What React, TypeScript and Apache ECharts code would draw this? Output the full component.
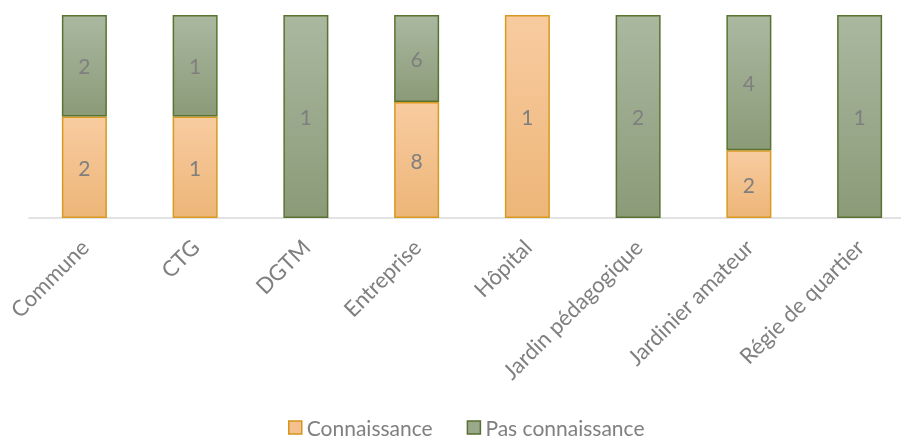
import React, { useEffect, useRef } from "react";
import * as echarts from "echarts";

const categories = ["Commune", "CTG", "DGTM", "Entreprise", "Hôpital", "Jardin pédagogique", "Jardinier amateur", "Régie de quartier"];
const connaissance = [2, 1, 0, 8, 1, 0, 2, 0];
const pasConnaissance = [2, 1, 1, 6, 0, 2, 4, 1];
const seriesNames = ["Connaissance", "Pas connaissance"];

export default function App() {
  const ref = useRef<HTMLDivElement>(null);
  useEffect(() => {
    if (!ref.current) return;
    const chart = echarts.init(ref.current, null, { renderer: "svg" });
    const totals = categories.map((_, i) => connaissance[i] + pasConnaissance[i]);
    const font = "Lato, 'Open Sans', sans-serif";
    const orange = new echarts.graphic.LinearGradient(0, 0, 0, 1, [
      { offset: 0, color: "#F8CBA0" },
      { offset: 1, color: "#EDB678" },
    ]);
    const green = new echarts.graphic.LinearGradient(0, 0, 0, 1, [
      { offset: 0, color: "#AAB8A0" },
      { offset: 1, color: "#8B9B78" },
    ]);
    const mk = (name: string, raw: number[], color: any, border: string) => ({
      name,
      type: "bar",
      stack: "total",
      barWidth: 45,
      data: raw.map((v, i) => (v ? { value: (v / totals[i]) * 100, raw: v } : "-")),
      itemStyle: { color, borderColor: border, borderWidth: 1.5 },
      label: {
        show: true,
        position: "inside",
        color: "#7F7F7F",
        fontSize: 21,
        fontFamily: font,
        formatter: (p: any) => (p.data && p.data.raw ? String(p.data.raw) : ""),
      },
      emphasis: { disabled: true },
    });
    chart.setOption({
      animation: false,
      grid: { left: 29, width: 886, top: 15, bottom: 221, containLabel: false, outerBoundsMode: "none" },
      legend: {
        bottom: -4,
        left: 283,
        itemWidth: 13,
        itemHeight: 13,
        itemGap: 34,
        icon: "rect",
        textStyle: { color: "#7F7F7F", fontSize: 21, fontFamily: font },
        data: [
          { name: seriesNames[0], itemStyle: { color: "#F4C08F", borderColor: "#D4951A", borderWidth: 1.5 } },
          { name: seriesNames[1], itemStyle: { color: "#9AA98A", borderColor: "#56702F", borderWidth: 1.5 } },
        ],
      },
      xAxis: {
        type: "category",
        data: categories,
        axisLine: { lineStyle: { color: "#D9D9D9", width: 1.5 } },
        axisTick: { show: false },
        axisLabel: { rotate: 45, interval: 0, color: "#7F7F7F", fontSize: 22, fontFamily: font, margin: 25 },
      },
      yAxis: { type: "value", min: 0, max: 100, show: false, splitLine: { show: false } },
      series: [
        mk(seriesNames[0], connaissance, orange, "#D99A1F"),
        mk(seriesNames[1], pasConnaissance, green, "#5A7332"),
      ],
    });
    return () => chart.dispose();
  }, []);
  return <div ref={ref} style={{ position: "fixed", left: 0, top: 0, width: 901, height: 439 }} />;
}
